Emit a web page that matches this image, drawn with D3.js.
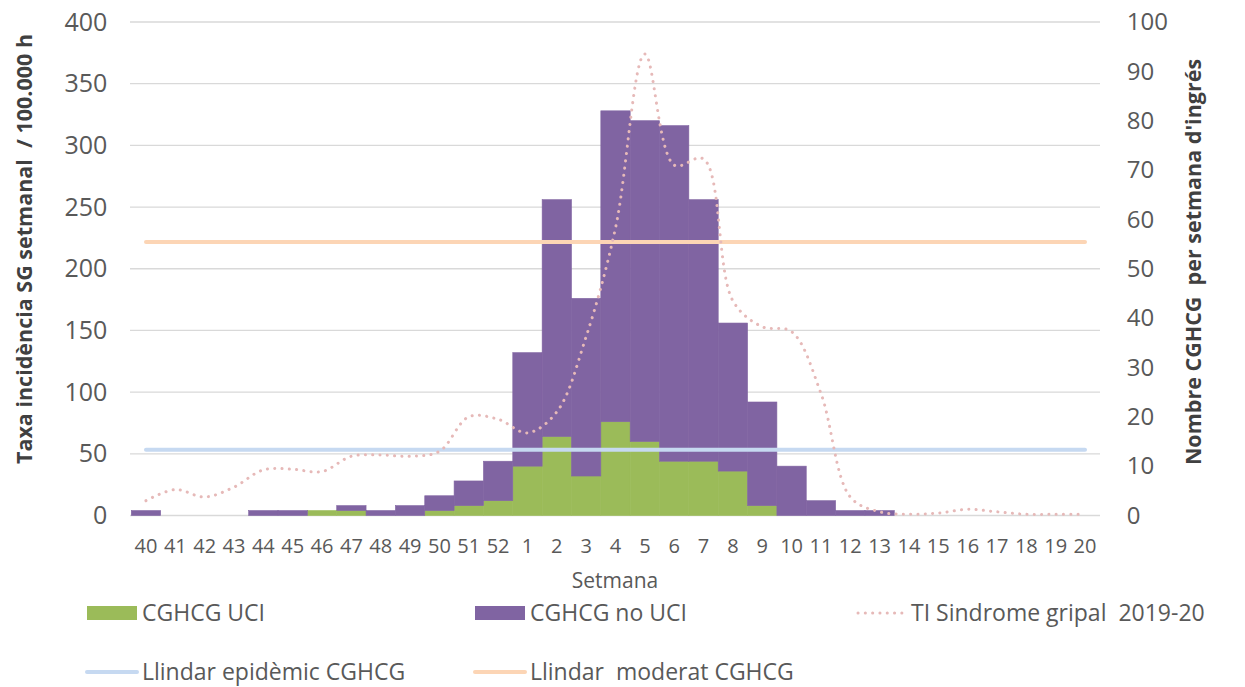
<!DOCTYPE html>
<html>
<head>
<meta charset="utf-8">
<script src="https://cdn.jsdelivr.net/npm/d3@7"></script>
<style>
  body { margin: 0; background: #fff; }
  text { font-family: "Open Sans", sans-serif; fill: #595959; white-space: pre; }
</style>
</head>
<body>
<svg id="chart"></svg>
<script>
// weeks of the 2019-20 season
var weeks = ["40","41","42","43","44","45","46","47","48","49","50","51","52",
             "1","2","3","4","5","6","7","8","9","10","11","12","13","14","15","16","17","18","19","20"];

// CGHCG cases per week (right axis)
var uci   = [0,0,0,0,0,0,1,1,0,0,1,2,3,10,16,8,19,15,11,11,9,2,0,0,0,0,0,0,0,0,0,0,0];
var noUci = [1,0,0,0,1,1,0,1,1,2,3,5,8,23,48,36,63,65,68,53,30,21,10,3,1,1,0,0,0,0,0,0,0];

// influenza-like illness rate per 100.000 h (left axis)
var tiSG = [12,21,15,23,37,37.5,35.6,48,49,48,52,80,78,67,84,145,233,374,284,289,174,153,149,99,15,3,1,2,5,3,1,1,1];

// thresholds CGHCG (right axis)
var llindarEpidemic = 13.3;
var llindarModerat = 55.4;

var leftTicks = [0,50,100,150,200,250,300,350,400];
var rightTicks = [0,10,20,30,40,50,60,70,80,90,100];

var width = 1245, height = 687;
var x0 = 131.3, x1 = 1099.7, yTop = 22, yBot = 515.5;

var svg = d3.select("#chart").attr("width", width).attr("height", height);

var x = d3.scaleBand().domain(weeks).range([x0, x1]).padding(0);
var yL = d3.scaleLinear().domain([0, 400]).range([yBot, yTop]);
var yR = d3.scaleLinear().domain([0, 100]).range([yBot, yTop]);

// gridlines
svg.append("g").selectAll("line")
  .data(leftTicks)
  .enter().append("line")
    .attr("x1", 130).attr("x2", 1100)
    .attr("y1", function(d) { return yL(d); })
    .attr("y2", function(d) { return yL(d); })
    .attr("stroke", "#d9d9d9")
    .attr("stroke-width", 1.3);

// stacked bars
var rows = weeks.map(function(w, i) { return { week: w, uci: uci[i], noUci: noUci[i] }; });
var stack = d3.stack().keys(["uci", "noUci"])(rows);
var colour = { uci: "#9bbb59", noUci: "#8064a2" };

svg.append("g").selectAll("g")
  .data(stack)
  .enter().append("g")
    .attr("fill", function(d) { return colour[d.key]; })
    .attr("stroke", function(d) { return colour[d.key]; })
    .attr("stroke-width", 0.6)
  .selectAll("rect")
  .data(function(d) { return d; })
  .enter().append("rect")
    .attr("x", function(d) { return x(d.data.week); })
    .attr("width", x.bandwidth())
    .attr("y", function(d) { return yR(d[1]); })
    .attr("height", function(d) { return yR(d[0]) - yR(d[1]); })
    .attr("stroke-opacity", function(d) { return d[1] > d[0] ? 1 : 0; });

// threshold lines
var flat = d3.line()
  .x(function(d) { return x(d) + x.bandwidth() / 2; });

svg.append("path")
  .attr("d", flat.y(yR(llindarEpidemic))(weeks))
  .attr("fill", "none")
  .attr("stroke", "#c6d9f1")
  .attr("stroke-width", 4)
  .attr("stroke-linecap", "round");

svg.append("path")
  .attr("d", flat.y(yR(llindarModerat))(weeks))
  .attr("fill", "none")
  .attr("stroke", "#fcd5b5")
  .attr("stroke-width", 4)
  .attr("stroke-linecap", "round");

// ILI rate, smoothed dotted line
var rateLine = d3.line()
  .x(function(d, i) { return x(weeks[i]) + x.bandwidth() / 2; })
  .y(function(d) { return yL(d); })
  .curve(d3.curveCatmullRom);

svg.append("path")
  .attr("d", rateLine(tiSG))
  .attr("fill", "none")
  .attr("stroke", "#e6b9b8")
  .attr("stroke-width", 3)
  .attr("stroke-linecap", "round")
  .attr("stroke-dasharray", "0.1 7.2");

// axes
var axL = svg.append("g")
  .attr("transform", "translate(" + x0 + ",0)")
  .call(d3.axisLeft(yL).tickValues(leftTicks).tickSize(0).tickPadding(24));
axL.select(".domain").remove();
axL.selectAll("text").style("font-size", "25px").style("font-family", null);

var axR = svg.append("g")
  .attr("transform", "translate(" + x1 + ",0)")
  .call(d3.axisRight(yR).tickValues(rightTicks).tickSize(0).tickPadding(27));
axR.select(".domain").remove();
axR.selectAll("text").style("font-size", "24px").style("font-family", null);

var axB = svg.append("g")
  .attr("transform", "translate(0," + yBot + ")")
  .call(d3.axisBottom(x).tickSize(0).tickPadding(23));
axB.select(".domain").remove();
axB.selectAll("text").style("font-size", "20px").style("font-family", null);

// axis titles
svg.append("text")
  .attr("transform", "translate(32,249) rotate(-90)")
  .attr("text-anchor", "middle")
  .style("font-size", "21.5px")
  .style("font-weight", "bold")
  .style("fill", "#404040")
  .text("Taxa incidència SG setmanal  / 100.000 h");

svg.append("text")
  .attr("transform", "translate(1201,262) rotate(-90)")
  .attr("text-anchor", "middle")
  .style("font-size", "21.5px")
  .style("font-weight", "bold")
  .style("fill", "#404040")
  .text("Nombre CGHCG  per setmana d'ingrés");

svg.append("text")
  .attr("x", 615).attr("y", 588)
  .attr("text-anchor", "middle")
  .style("font-size", "21px")
  .text("Setmana");

// legend
var legend = [
  { label: "CGHCG UCI", type: "rect", colour: "#9bbb59", x: 87, y: 613 },
  { label: "CGHCG no UCI", type: "rect", colour: "#8064a2", x: 475, y: 613 },
  { label: "TI Sindrome gripal  2019-20", type: "dots", colour: "#e6b9b8", x: 856, y: 613 },
  { label: "Llindar epidèmic CGHCG", type: "line", colour: "#c6d9f1", x: 87, y: 672 },
  { label: "Llindar  moderat CGHCG", type: "line", colour: "#fcd5b5", x: 475, y: 672 }
];

var lg = svg.append("g").selectAll("g")
  .data(legend)
  .enter().append("g")
    .attr("transform", function(d) { return "translate(" + d.x + "," + d.y + ")"; });

lg.filter(function(d) { return d.type == "rect"; }).append("rect")
  .attr("x", 0).attr("y", -7).attr("width", 50).attr("height", 14)
  .attr("fill", function(d) { return d.colour; });

lg.filter(function(d) { return d.type == "line"; }).append("line")
  .attr("x1", 0).attr("x2", 50)
  .attr("stroke", function(d) { return d.colour; })
  .attr("stroke-width", 4)
  .attr("stroke-linecap", "round");

lg.filter(function(d) { return d.type == "dots"; }).append("line")
  .attr("x1", 2).attr("x2", 50)
  .attr("stroke", function(d) { return d.colour; })
  .attr("stroke-width", 3)
  .attr("stroke-linecap", "round")
  .attr("stroke-dasharray", "0.1 7.2");

lg.append("text")
  .attr("x", 55).attr("dy", "0.35em")
  .style("font-size", "23px")
  .text(function(d) { return d.label; });
</script>
</body>
</html>
